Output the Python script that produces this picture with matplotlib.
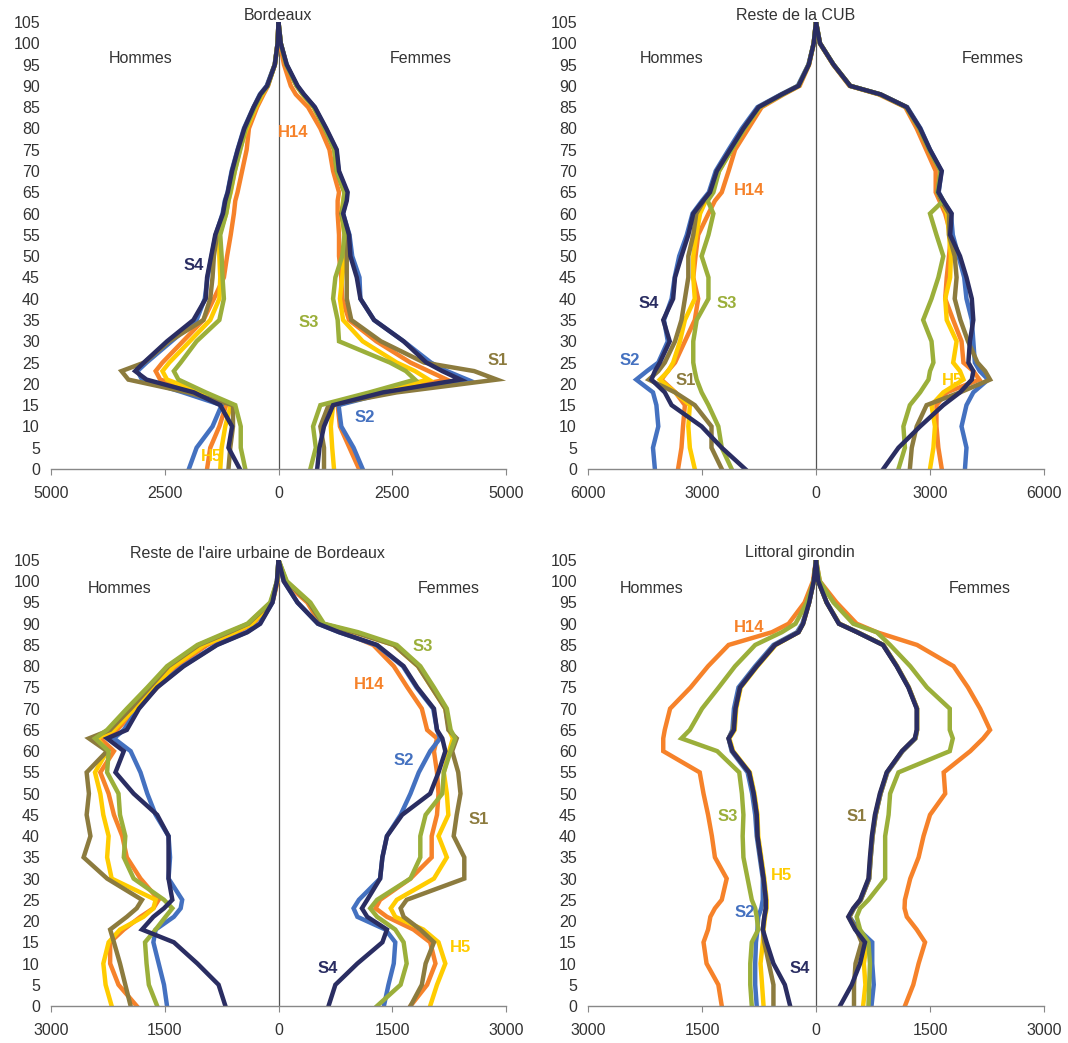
import matplotlib.pyplot as plt

plt.rcParams['font.family'] = ['Liberation Sans', 'DejaVu Sans']

AGES = [0, 5, 10, 15, 18, 21, 23, 25, 30, 35, 40, 45, 50, 55, 60, 63, 65,
        70, 75, 80, 85, 88, 90, 95, 100, 105]
SERIES = ['H14', 'S2', 'H5', 'S1', 'S3', 'S4']
COLORS = {'S1': '#8C7B3E', 'S2': '#4471C0', 'S3': '#9BAF3A',
          'S4': '#2A2D62', 'H5': '#FFCC00', 'H14': '#F6822A'}

# Bordeaux
BX_H = {
    'S4': [850, 1100, 1020, 1280, 1860, 2900, 3150, 2960, 2450, 1870, 1600, 1570, 1480, 1390, 1220, 1170, 1115, 1020, 895, 750, 545, 400, 250, 80, 20, 0],
    'S1': [1100, 1060, 1000, 1000, 2000, 3300, 3450, 2950, 2400, 1650, 1500, 1450, 1420, 1350, 1200, 1150, 1100, 1000, 880, 740, 540, 390, 240, 80, 20, 0],
    'S2': [1970, 1800, 1450, 1250, 2100, 3000, 3100, 2900, 2350, 1800, 1620, 1560, 1470, 1380, 1230, 1180, 1120, 1030, 900, 760, 550, 410, 260, 85, 20, 0],
    'H14': [1570, 1500, 1300, 1150, 1700, 2600, 2700, 2550, 2100, 1650, 1420, 1200, 1130, 1050, 980, 950, 900, 800, 700, 650, 470, 330, 230, 80, 20, 0],
    'H5': [1280, 1250, 1170, 1050, 1700, 2450, 2550, 2400, 1950, 1500, 1300, 1280, 1300, 1300, 1150, 1100, 1050, 960, 850, 700, 500, 360, 240, 80, 20, 0],
    'S3': [730, 830, 830, 950, 1600, 2200, 2300, 2150, 1800, 1300, 1200, 1230, 1250, 1280, 1150, 1100, 1060, 960, 840, 720, 520, 380, 240, 80, 20, 0],
}
BX_F = {
    'S4': [850, 900, 1000, 1200, 2300, 4000, 3600, 3250, 2750, 2100, 1800, 1720, 1580, 1550, 1420, 1500, 1520, 1330, 1280, 1050, 800, 560, 420, 180, 50, 0],
    'S1': [1000, 1000, 920, 1100, 2600, 4800, 4300, 3200, 2250, 1600, 1500, 1500, 1500, 1480, 1380, 1450, 1450, 1280, 1230, 1020, 780, 540, 400, 170, 50, 0],
    'S2': [1850, 1650, 1380, 1320, 2400, 4150, 3700, 3350, 2750, 2100, 1800, 1780, 1620, 1560, 1420, 1480, 1500, 1320, 1270, 1040, 790, 550, 410, 180, 50, 0],
    'H14': [1770, 1560, 1350, 1300, 2200, 3700, 3300, 2900, 2150, 1550, 1400, 1380, 1330, 1330, 1300, 1300, 1330, 1200, 1120, 920, 650, 380, 270, 120, 30, 0],
    'H5': [1220, 1180, 1150, 1200, 2100, 3300, 3000, 2600, 1850, 1420, 1350, 1400, 1450, 1450, 1380, 1420, 1450, 1280, 1230, 1020, 770, 530, 400, 170, 50, 0],
    'S3': [700, 820, 760, 920, 2000, 3000, 2800, 2450, 1330, 1300, 1200, 1250, 1400, 1450, 1400, 1430, 1450, 1280, 1230, 1020, 780, 540, 400, 170, 50, 0],
}

# Reste de la CUB
CUB_H = {
    'S4': [1865, 2480, 3010, 3800, 3980, 4330, 4240, 4110, 3850, 4020, 3760, 3710, 3540, 3360, 3230, 2970, 2790, 2610, 2260, 1910, 1510, 900, 460, 190, 60, 0],
    'S2': [4240, 4290, 4150, 4200, 4290, 4730, 4450, 4150, 3900, 4000, 3800, 3720, 3600, 3400, 3250, 3000, 2820, 2640, 2300, 1950, 1540, 920, 480, 200, 60, 0],
    'S1': [2480, 2750, 2750, 3190, 3710, 4400, 4150, 3980, 3710, 3540, 3450, 3360, 3360, 3230, 3150, 2950, 2780, 2600, 2250, 1900, 1500, 890, 460, 190, 60, 0],
    'H14': [3630, 3540, 3500, 3450, 3700, 4070, 3900, 3710, 3450, 3190, 3100, 3230, 3170, 3100, 2830, 2660, 2480, 2300, 2130, 1780, 1430, 850, 430, 180, 60, 0],
    'H5': [3190, 3320, 3360, 3320, 3710, 4110, 3890, 3760, 3580, 3450, 3190, 3230, 3230, 3150, 3050, 2900, 2750, 2550, 2220, 1880, 1480, 880, 450, 190, 60, 0],
    'S3': [2220, 2480, 2570, 2830, 3010, 3140, 3190, 3230, 3230, 3140, 2830, 2830, 3010, 2830, 2700, 2850, 2700, 2550, 2220, 1880, 1490, 880, 460, 190, 60, 0],
}
CUB_F = {
    'S4': [1770, 2170, 2740, 3350, 3790, 4100, 4140, 4010, 4050, 4140, 4100, 3960, 3790, 3530, 3570, 3350, 3220, 3310, 3000, 2740, 2390, 1700, 900, 460, 105, 0],
    'S2': [3920, 3960, 3830, 3960, 4140, 4530, 4310, 4180, 4140, 4100, 3960, 3900, 3750, 3600, 3550, 3350, 3230, 3300, 3000, 2750, 2400, 1700, 900, 460, 105, 0],
    'S1': [2470, 2520, 2650, 2910, 3790, 4580, 4450, 4250, 4000, 3800, 3650, 3700, 3650, 3500, 3500, 3300, 3200, 3280, 2980, 2720, 2380, 1690, 900, 460, 105, 0],
    'H14': [3310, 3220, 3170, 3170, 3440, 4300, 4140, 3880, 3830, 3610, 3400, 3440, 3500, 3550, 3400, 3250, 3150, 3150, 2900, 2650, 2350, 1650, 880, 450, 100, 0],
    'H5': [3000, 3090, 3130, 3040, 3350, 3880, 3790, 3610, 3700, 3440, 3400, 3530, 3550, 3500, 3450, 3300, 3200, 3280, 2980, 2720, 2380, 1690, 900, 460, 105, 0],
    'S3': [2170, 2340, 2300, 2470, 2740, 2960, 3000, 3090, 3040, 2820, 3040, 3220, 3350, 3170, 3000, 3350, 3200, 3280, 2980, 2720, 2380, 1690, 900, 460, 105, 0],
}

# Reste de l'aire urbaine de Bordeaux
AU_H = {
    'S4': [700, 790, 1070, 1380, 1800, 1650, 1510, 1400, 1450, 1450, 1450, 1600, 1910, 2150, 2040, 2260, 2000, 1840, 1600, 1250, 810, 410, 240, 80, 20, 0],
    'S2': [1470, 1510, 1580, 1650, 1620, 1380, 1290, 1270, 1450, 1430, 1450, 1620, 1730, 1820, 1950, 2170, 2040, 1850, 1610, 1260, 820, 420, 250, 80, 20, 0],
    'S3': [1600, 1710, 1740, 1760, 1620, 1490, 1400, 1510, 1910, 2040, 2020, 2090, 2110, 2260, 2240, 2420, 2260, 2000, 1730, 1470, 1070, 680, 410, 110, 20, 0],
    'H14': [1870, 2110, 2220, 2220, 2040, 1820, 1650, 1580, 1820, 2000, 2060, 2170, 2240, 2350, 2170, 2350, 2130, 1870, 1600, 1340, 940, 550, 330, 80, 10, 0],
    'H5': [2200, 2280, 2310, 2240, 2090, 1780, 1650, 1620, 2200, 2260, 2240, 2310, 2350, 2420, 2260, 2390, 2170, 1900, 1650, 1380, 980, 580, 350, 90, 15, 0],
    'S1': [1950, 2020, 2090, 2170, 2220, 2000, 1870, 1800, 2260, 2570, 2480, 2530, 2500, 2530, 2260, 2500, 2220, 1950, 1700, 1450, 1050, 650, 400, 100, 20, 0],
}
AU_F = {
    'S4': [660, 750, 1040, 1370, 1430, 1170, 1100, 1170, 1340, 1370, 1430, 1630, 2000, 2110, 2200, 2160, 2090, 2050, 1830, 1650, 1300, 800, 520, 250, 70, 0],
    'S2': [1390, 1450, 1520, 1540, 1410, 1040, 990, 1060, 1340, 1370, 1430, 1610, 1740, 1850, 2000, 2130, 2090, 2040, 1820, 1640, 1290, 800, 520, 250, 70, 0],
    'S3': [1300, 1610, 1690, 1650, 1540, 1300, 1210, 1300, 1740, 1870, 1870, 1940, 2160, 2180, 2270, 2330, 2270, 2220, 2050, 1870, 1560, 1050, 600, 420, 110, 0],
    'H14': [1740, 1960, 2070, 2000, 1780, 1430, 1280, 1340, 1740, 2020, 2020, 2090, 2110, 2090, 2050, 2090, 1960, 1890, 1700, 1520, 1250, 850, 550, 380, 70, 0],
    'H5': [2000, 2090, 2200, 2110, 1910, 1540, 1480, 1560, 2050, 2220, 2110, 2240, 2220, 2180, 2250, 2300, 2250, 2200, 2020, 1840, 1520, 1000, 580, 400, 100, 0],
    'S1': [1740, 1890, 1940, 2050, 1870, 1650, 1610, 1690, 2450, 2450, 2310, 2350, 2400, 2370, 2290, 2350, 2240, 2200, 2020, 1840, 1520, 1000, 580, 400, 100, 0],
}

# Littoral girondin
LG_H = {
    'S4': [340, 410, 560, 650, 700, 680, 660, 660, 690, 730, 770, 780, 820, 880, 1100, 1150, 1080, 1060, 1000, 780, 540, 230, 170, 90, 30, 0],
    'S2': [780, 800, 800, 790, 770, 760, 720, 700, 700, 740, 780, 800, 840, 900, 1110, 1150, 1100, 1080, 1020, 800, 560, 250, 180, 90, 30, 0],
    'S3': [845, 865, 865, 845, 760, 780, 800, 845, 900, 955, 965, 955, 975, 1010, 1300, 1770, 1660, 1500, 1280, 1065, 800, 450, 270, 120, 30, 0],
    'H14': [1240, 1285, 1440, 1480, 1420, 1390, 1330, 1240, 1175, 1330, 1370, 1420, 1480, 1530, 2010, 2010, 1990, 1920, 1650, 1420, 1150, 580, 360, 150, 40, 0],
    'H5': [690, 710, 730, 700, 690, 670, 650, 650, 680, 720, 760, 770, 810, 870, 1090, 1140, 1070, 1050, 990, 770, 530, 230, 170, 90, 30, 0],
    'S1': [560, 560, 620, 680, 700, 680, 660, 660, 690, 730, 770, 780, 820, 880, 1100, 1150, 1090, 1060, 1000, 780, 540, 230, 170, 90, 30, 0],
}
LG_F = {
    'S4': [316, 470, 580, 645, 515, 425, 490, 580, 690, 710, 735, 775, 840, 930, 1130, 1300, 1325, 1325, 1215, 1060, 880, 540, 300, 140, 30, 0],
    'S2': [730, 760, 740, 740, 560, 440, 500, 590, 700, 720, 745, 785, 850, 940, 1140, 1310, 1330, 1330, 1220, 1065, 885, 545, 305, 140, 30, 0],
    'S3': [690, 700, 710, 690, 580, 535, 580, 690, 910, 910, 910, 955, 975, 1085, 1760, 1800, 1760, 1760, 1460, 1240, 975, 800, 490, 230, 50, 0],
    'H14': [1170, 1280, 1350, 1435, 1325, 1195, 1165, 1170, 1240, 1350, 1415, 1500, 1700, 1680, 2030, 2200, 2290, 2160, 2000, 1810, 1330, 800, 535, 270, 50, 0],
    'H5': [620, 650, 630, 670, 520, 430, 495, 585, 695, 715, 740, 780, 845, 935, 1135, 1305, 1330, 1330, 1220, 1065, 885, 545, 305, 140, 30, 0],
    'S1': [500, 500, 520, 600, 530, 440, 500, 590, 700, 720, 745, 785, 850, 935, 1135, 1305, 1330, 1330, 1220, 1065, 885, 545, 305, 140, 30, 0],
}

TITLES = ['Bordeaux', 'Reste de la CUB', "Reste de l'aire urbaine de Bordeaux", 'Littoral girondin']
XMAX = [5000, 6000, 3000, 3000]

# series labels: (name, x, age)
LABELS = [
    [('H14', 330, 79), ('S4', -1870, 47.7), ('S3', 660, 34.3), ('S1', 4820, 25.4), ('S2', 1890, 12), ('H5', -1470, 3)],
    [('H14', -1760, 65.5), ('S4', -4390, 38.8), ('S3', -2340, 38.8), ('S2', -4890, 25.6), ('S1', -3420, 20.7), ('H5', 3600, 20.7)],
    [('S3', 1900, 84.7), ('H14', 1190, 75.8), ('S2', 1650, 57.9), ('S1', 2640, 44), ('H5', 2400, 13.7), ('S4', 650, 8.9)],
    [('H14', -885, 89.2), ('S3', -1160, 44.5), ('S1', 540, 44.5), ('H5', -450, 30.8), ('S2', -940, 22.1), ('S4', -210, 8.9)],
]
# Hommes / Femmes text positions (x, age)
SEX_POS = [(-3020, 3130, 96.5), (-3810, 4660, 96.5), (-2090, 2240, 98.2), (-2160, 2160, 98.2)]

W, H = 1068, 1043
# axes boxes in pixels: left, right, top, bottom
BOXES = [(51, 506, 22, 469), (588, 1044, 22, 469), (51, 506, 560, 1006), (588, 1044, 560, 1006)]
TITLE_PX = [(278, 15), (796, 15), (257, 553), (800, 553)]

TXT = '#333333'

fig = plt.figure(figsize=(W / 100, H / 100), dpi=100)
data = [(BX_H, BX_F), (CUB_H, CUB_F), (AU_H, AU_F), (LG_H, LG_F)]

for i, (hommes, femmes) in enumerate(data):
    l, r, t, b = BOXES[i]
    ax = fig.add_axes([l / W, 1 - b / H, (r - l) / W, (b - t) / H])
    xmax = XMAX[i]
    for s in SERIES:
        ax.plot([-v for v in hommes[s]], AGES, color=COLORS[s], lw=3.2, solid_joinstyle='miter')
        ax.plot(femmes[s], AGES, color=COLORS[s], lw=3.2, solid_joinstyle='miter')
    ax.axvline(0, color='#555555', lw=0.9, zorder=0)
    ax.set_xlim(-xmax, xmax)
    ax.set_ylim(0, 105)
    ax.set_yticks(range(0, 106, 5))
    ax.tick_params(axis='y', length=0, pad=8, labelsize=11.5, labelcolor=TXT)
    xt = [-xmax, -xmax / 2, 0, xmax / 2, xmax]
    ax.set_xticks(xt)
    ax.set_xticklabels([str(int(abs(v))) for v in xt])
    ax.tick_params(axis='x', direction='out', length=4, color='#888888', pad=8,
                   labelsize=11.5, labelcolor=TXT)
    for side in ['top', 'right', 'left']:
        ax.spines[side].set_visible(False)
    ax.spines['bottom'].set_color('#888888')
    ax.spines['bottom'].set_linewidth(1.0)
    ax.patch.set_alpha(0)

    xh, xf, ys = SEX_POS[i]
    ax.text(xh, ys, 'Hommes', ha='center', va='center', fontsize=11.5, color=TXT)
    ax.text(xf, ys, 'Femmes', ha='center', va='center', fontsize=11.5, color=TXT)
    for name, x, y in LABELS[i]:
        ax.text(x, y, name, ha='center', va='center', fontsize=12,
                fontweight='bold', color=COLORS[name])

    tx, ty = TITLE_PX[i]
    fig.text(tx / W, 1 - ty / H, TITLES[i], ha='center', va='center',
             fontsize=11.5, color=TXT)

fig.savefig('out.png', dpi=100)
